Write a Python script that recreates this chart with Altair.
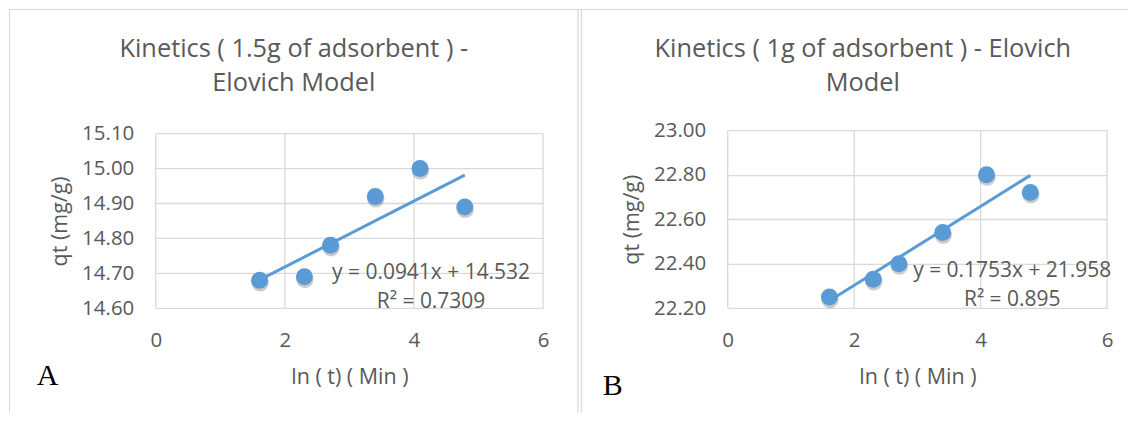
import altair as alt
import pandas as pd

# ---- data ----
ln_t = [1.609, 2.303, 2.708, 3.401, 4.094, 4.787]
qt_a = [14.68, 14.69, 14.78, 14.92, 15.00, 14.89]
qt_b = [22.25, 22.33, 22.40, 22.54, 22.80, 22.72]
x_ticks = [0, 2, 4, 6]
y_ticks_a = [14.6, 14.7, 14.8, 14.9, 15.0, 15.1]
y_ticks_b = [22.2, 22.4, 22.6, 22.8, 23.0]
title_a = ["Kinetics ( 1.5g of adsorbent ) -", "Elovich Model"]
title_b = ["Kinetics ( 1g of adsorbent ) - Elovich", "Model"]
eq_a = ["y = 0.0941x + 14.532", "R² = 0.7309"]
eq_b = ["y = 0.1753x + 21.958", "R² = 0.895"]
eq_pos_a = [4.265, 14.70]
eq_pos_b = [4.50, 22.365]
x_title = "ln ( t) ( Min )"
y_title = "qt (mg/g)"

BLUE = "#5b9bd5"
GRAY = "#595959"
GRID = "#d9d9d9"
FONT = "Open Sans"


def panel(qt, yticks, ydom, yrange, width, height, title, title_xy, eq, eqpos,
          letter, letter_xy, borders=False):
    df = pd.DataFrame({"x": ln_t, "y": qt})
    xs = alt.Scale(domain=[0, 6], nice=False, zero=False)
    ys = alt.Scale(domain=ydom, nice=False, zero=False, range=yrange)
    xaxis = alt.Axis(values=x_ticks, format="d", title=x_title, grid=False,
                     labelPadding=23, titlePadding=15)
    yaxis = alt.Axis(values=yticks, format=".2f", title=y_title, grid=True,
                     labelPadding=22, titlePadding=10)
    xenc = alt.X("x:Q", scale=xs, axis=xaxis)
    yenc = alt.Y("y:Q", scale=ys, axis=yaxis)
    base = alt.Chart(df)
    dummy = pd.DataFrame({"a": [0]})
    axis_holder = base.mark_circle(opacity=0, size=1).encode(x=xenc, y=yenc)
    vgrid = alt.Chart(pd.DataFrame({"x": x_ticks})).mark_rule(
        color=GRID, strokeWidth=1.3).encode(
        x=xenc,
        y=alt.YDatum(ydom[0], scale=ys, axis=yaxis),
        y2=alt.Y2Datum(ydom[1]))
    line = base.transform_regression("x", "y").mark_line(
        color=BLUE, strokeWidth=3).encode(x=xenc, y=yenc)
    shadow = base.mark_circle(size=300, color="#000000", opacity=0.2,
                              xOffset=0.5, yOffset=2.5).encode(x=xenc, y=yenc)
    pts = base.mark_circle(size=290, color=BLUE, opacity=1).encode(x=xenc, y=yenc)
    eqdf = pd.DataFrame({"x": [eqpos[0]], "y": [eqpos[1]]})
    eqt = alt.Chart(eqdf).mark_text(text=eq, font=FONT, fontSize=21, color=GRAY,
                                    align="center", baseline="middle",
                                    lineHeight=28.5).encode(x=xenc, y=yenc)
    ttl = alt.Chart(dummy).mark_text(text=title, font=FONT, fontSize=25.4, color=GRAY,
                                     align="center", baseline="alphabetic",
                                     lineHeight=34).encode(
        x=alt.value(title_xy[0]), y=alt.value(title_xy[1]))
    let = alt.Chart(dummy).mark_text(text=letter, font="Liberation Serif", fontSize=30,
                                     color="#000000", align="center",
                                     baseline="alphabetic").encode(
        x=alt.value(letter_xy[0]), y=alt.value(letter_xy[1]))
    layers = [axis_holder]
    if borders:
        top = alt.Chart(dummy).mark_rule(color=GRID, strokeWidth=1).encode(
            x=alt.value(-147), x2=alt.value(974), y=alt.value(-120.8))
        left = alt.Chart(dummy).mark_rule(color=GRID, strokeWidth=1).encode(
            x=alt.value(-146.5), y=alt.value(-120.8), y2=alt.value(283))
        d1 = alt.Chart(dummy).mark_rule(color=GRID, strokeWidth=1.2).encode(
            x=alt.value(423), y=alt.value(-120.8), y2=alt.value(283))
        d2 = alt.Chart(dummy).mark_rule(color=GRID, strokeWidth=1.2).encode(
            x=alt.value(426.5), y=alt.value(-120.8), y2=alt.value(283))
        layers += [top, left, d1, d2]
    layers += [vgrid, line, shadow, pts, eqt, ttl, let]
    return alt.layer(*layers).properties(width=width, height=height)


pa = panel(qt_a, y_ticks_a, [14.6, 15.1], [178.4, 3.4], 388, 178, title_a,
           [138.3, -73.5], eq_a, eq_pos_a, "A", [-108.3, 255.7], borders=True)
pb = panel(qt_b, y_ticks_b, [22.2, 23.0], [178.4, 0], 380, 178, title_b,
           [135.3, -73.5], eq_b, eq_pos_b, "B", [-115.3, 265.7])

chart = alt.hconcat(pa, pb, spacing=185, bounds="flush").properties(
    padding={"left": 0, "top": 0, "right": 0, "bottom": 0},
).configure_view(stroke="transparent").configure_axis(
    domain=False, ticks=False, gridColor=GRID, gridWidth=1.3,
    labelFont=FONT, labelFontSize=20.5, labelColor=GRAY,
    labelFlush=False, labelOverlap=False,
    titleFont=FONT, titleFontSize=21.5, titleColor=GRAY, titleFontWeight="normal",
)

chart.save("out.html", embed_options={"renderer": "svg", "actions": False})
